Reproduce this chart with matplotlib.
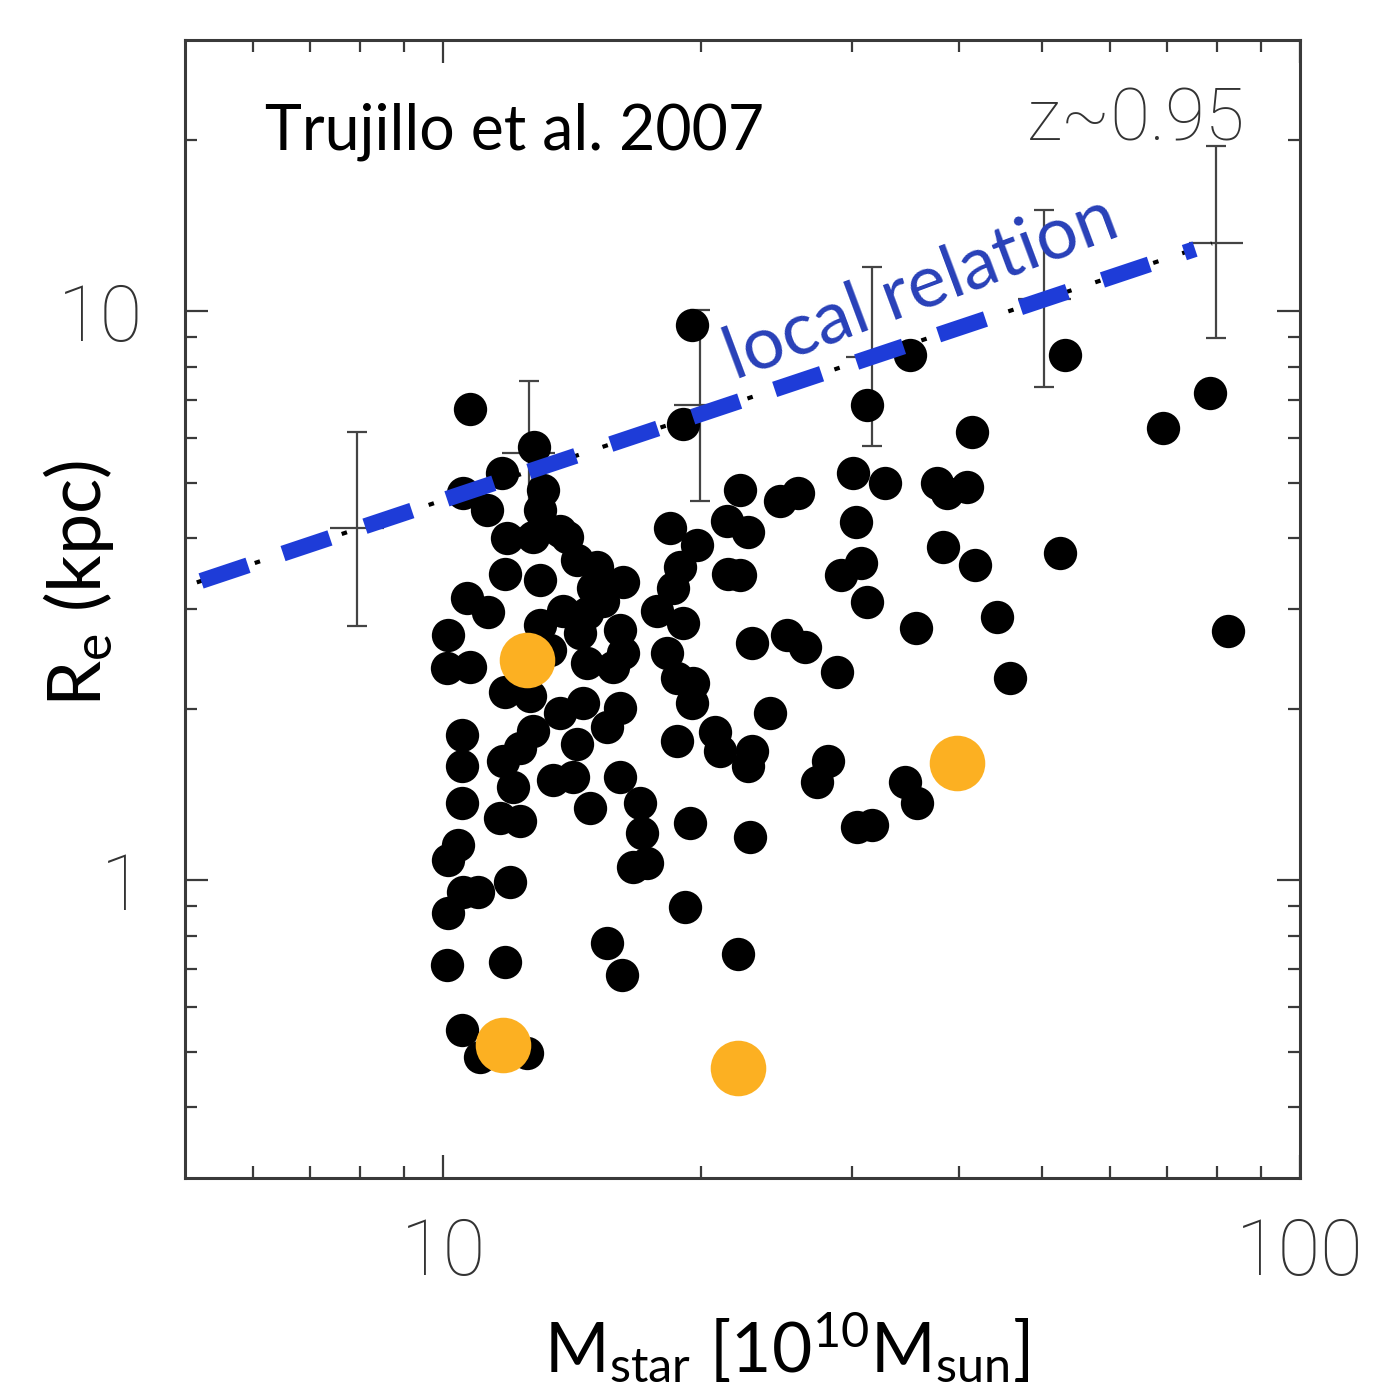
import matplotlib
matplotlib.use("Agg")
import matplotlib.pyplot as plt
from matplotlib.ticker import FixedLocator, FixedFormatter, NullFormatter

plt.rcParams['mathtext.fontset'] = 'custom'
plt.rcParams['mathtext.rm'] = 'Lato'
plt.rcParams['mathtext.it'] = 'Lato:italic'
plt.rcParams['lines.scale_dashes'] = False

# galaxies (stellar mass in 1e10 Msun, effective radius in kpc)
mass_black = [19.5, 10.75, 12.77, 19.06, 35.1, 53.2, 31.2, 78.5, 69.2, 41.4, 52.5, 82.4,
              11.72, 10.55, 11.26, 13.08, 12.98, 13.69, 12.74, 13.95, 11.88, 11.81, 12.98,
              14.33, 15.12, 16.22, 14.96, 15.37, 13.80, 12.98, 14.72, 16.09, 16.22, 14.45,
              14.72, 15.79, 13.33, 11.81, 12.63, 10.67, 11.28, 10.13, 10.11, 10.75,
              18.40, 19.79, 18.91, 18.55, 17.77, 19.06, 18.25, 18.76, 19.57,
              22.22, 24.74, 25.96, 21.45, 22.70, 21.51, 22.22, 30.09, 32.8, 37.7, 38.7,
              40.9, 30.3, 38.3, 41.8, 30.7, 29.1, 31.2, 35.6, 44.3, 22.94, 25.20, 26.45,
              28.8, 45.9, 24.07, 19.52, 20.77, 21.05, 22.94, 22.70, 28.1, 27.3, 34.6,
              35.7, 30.4, 31.7, 19.42, 22.82, 19.16, 22.10, 18.76,
              13.69, 14.57, 16.09, 15.54, 12.74, 12.30, 11.75, 14.33, 13.44, 14.18,
              12.07, 11.65, 12.30, 14.84, 16.09, 16.98, 17.07, 16.66, 17.30,
              10.52, 10.52, 10.52, 10.41, 10.13, 10.55, 10.98, 10.13, 11.97, 10.11,
              11.81, 10.52, 11.04, 12.53, 15.54, 16.18]
re_black = [9.45, 6.73, 5.77, 6.33, 8.37, 8.37, 6.84, 7.18, 6.23, 6.13, 3.76, 2.74,
            5.21, 4.79, 4.47, 4.85, 4.47, 4.12, 4.01, 4.01, 3.99, 3.46, 3.37,
            3.65, 3.55, 3.34, 3.27, 3.10, 2.98, 2.81, 2.95, 2.75, 2.51, 2.72,
            2.41, 2.37, 2.54, 2.14, 2.11, 3.14, 2.96, 2.70, 2.36, 2.37,
            4.17, 3.88, 3.55, 3.27, 2.98, 2.83, 2.51, 2.27, 2.22,
            4.85, 4.65, 4.79, 4.29, 4.09, 3.46, 3.44, 5.21, 4.99, 4.99, 4.79,
            4.91, 4.26, 3.85, 3.58, 3.61, 3.44, 3.08, 2.78, 2.90, 2.61, 2.70, 2.57,
            2.32, 2.27, 1.97, 2.05, 1.82, 1.69, 1.69, 1.59, 1.62, 1.49, 1.49,
            1.366, 1.24, 1.25, 1.26, 1.19, 0.897, 0.744, 1.76,
            1.97, 2.05, 2.01, 1.86, 1.83, 1.71, 1.62, 1.74, 1.50, 1.52,
            1.46, 1.29, 1.27, 1.34, 1.52, 1.366, 1.21, 1.054, 1.071,
            1.80, 1.59, 1.366, 1.152, 1.084, 0.953, 0.953, 0.875, 0.992, 0.709,
            0.718, 0.545, 0.489, 0.497, 0.775, 0.681]

mass_orange = [12.53, 39.8, 11.75, 22.10]
re_orange = [2.44, 1.61, 0.513, 0.469]

# local relation with its scatter in mass bins
bin_mass = [7.94, 12.6, 19.95, 31.7, 50.3, 79.8]
bin_mass_low = [7.38, 11.7, 18.6, 29.5, 46.8, 74.2]
bin_mass_high = [8.54, 13.5, 21.4, 34.1, 54.1, 85.8]
bin_re = [4.16, 5.63, 6.84, 8.33, 10.5, 13.2]
bin_re_low = [2.80, 4.17, 4.65, 5.81, 7.35, 8.97]
bin_re_high = [6.13, 7.56, 10.04, 11.95, 15.05, 19.5]

local_mass = [5.16, 78.9]
local_re = [3.34, 13.17]
fit_mass = [5.22, 75.4]
fit_re = [3.36, 12.87]

fig = plt.figure(figsize=(13.79, 13.86), dpi=100)
ax = fig.add_axes([0.1342, 0.1501, 0.8086, 0.8211])
ax.set_xscale('log')
ax.set_yscale('log')
ax.set_xlim(5, 100)
ax.set_ylim(0.3, 30)

grey = '#3a3a3a'
yerr = [[c - lo for c, lo in zip(bin_re, bin_re_low)],
        [hi - c for c, hi in zip(bin_re, bin_re_high)]]
xerr = [[c - lo for c, lo in zip(bin_mass, bin_mass_low)],
        [hi - c for c, hi in zip(bin_mass, bin_mass_high)]]
ax.errorbar(bin_mass, bin_re, yerr=yerr, fmt='none', ecolor='#444444',
            elinewidth=1.6, capsize=7, capthick=1.6, zorder=1)
ax.errorbar(bin_mass, bin_re, xerr=xerr, fmt='none', ecolor='#444444',
            elinewidth=1.6, capsize=0, zorder=1)

ax.plot(local_mass, local_re, color='black', lw=3, dashes=(4, 18), zorder=2)
ax.plot(mass_black, re_black, 'o', color='black', ms=24, mec='none', zorder=3)
ax.plot(fit_mass, fit_re, color='#1e3cd8', lw=11.5, dashes=(35.6, 26.6),
        solid_capstyle='butt', dash_capstyle='butt', zorder=4)
ax.plot(mass_orange, re_orange, 'o', color='#fcb022', ms=40, mec='none', zorder=5)

for s in ax.spines.values():
    s.set_linewidth(2.2)
    s.set_color(grey)

ax.xaxis.set_major_locator(FixedLocator([10, 100]))
ax.xaxis.set_major_formatter(FixedFormatter(['10', '100']))
ax.xaxis.set_minor_locator(FixedLocator([6, 7, 8, 9, 20, 30, 40, 50, 60, 70, 80, 90]))
ax.xaxis.set_minor_formatter(NullFormatter())
ax.yaxis.set_major_locator(FixedLocator([1, 10]))
ax.yaxis.set_major_formatter(FixedFormatter(['1', '10']))
ax.yaxis.set_minor_locator(FixedLocator([0.4, 0.5, 0.6, 0.7, 0.8, 0.9, 2, 3, 4, 5,
                                         6, 7, 8, 9, 20]))
ax.yaxis.set_minor_formatter(NullFormatter())

ax.tick_params(which='both', direction='in', top=True, right=True, color=grey,
               width=1.6)
ax.tick_params(which='major', length=16.5)
ax.tick_params(which='minor', length=8.6)
ax.tick_params(axis='x', which='major', pad=28)
ax.tick_params(axis='y', which='major', pad=30)
for lab in ax.get_xticklabels() + ax.get_yticklabels():
    lab.set_fontfamily('Roboto')
    lab.set_fontweight('light')
    lab.set_fontsize(56)
    lab.set_color('#333333')

ax.text(0.0717, 0.9033, 'Trujillo et al. 2007', transform=ax.transAxes,
        fontfamily='Lato', fontsize=45, color='black', ha='left', va='baseline',
        zorder=6)
ax.text(0.9507, 0.912, 'z~0.95', transform=ax.transAxes, fontfamily='Roboto',
        fontweight='light', fontsize=52, color='#333333', ha='right',
        va='baseline', zorder=6)
ax.text(21.9, 7.6, 'local relation', fontfamily='Lato', fontsize=53,
        color='#2840b8', rotation=20.5, rotation_mode='anchor', ha='left',
        va='baseline', zorder=6)

fig.text(79 / 1379, 1 - 583 / 1386, r'$\mathrm{R_e\ (kpc)}$', rotation=90,
         ha='center', va='center', fontsize=53, color='black')
fig.text(787 / 1379, 1 - 1372 / 1386, r'$\mathrm{M_{star}\ [10^{10}M_{sun}]}$',
         ha='center', va='baseline', fontsize=50, color='black')

fig.savefig('out.png', dpi=100)
